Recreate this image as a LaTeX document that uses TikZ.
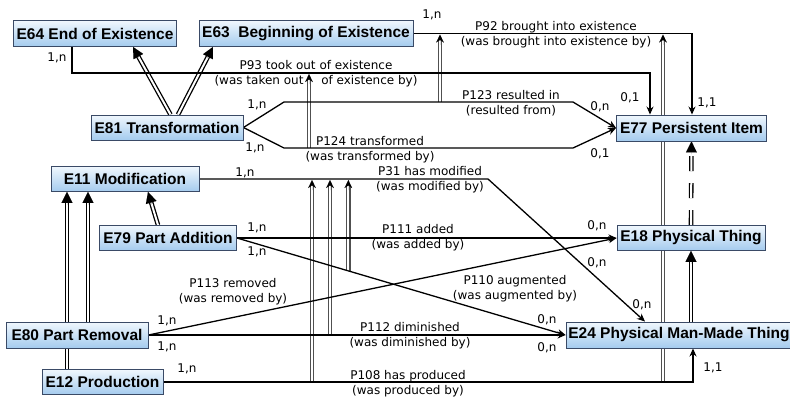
\documentclass[tikz,border=0pt]{standalone}
\usepackage{fontspec}
\setmainfont{DejaVu Sans}
\newfontfamily\boxfont{Liberation Sans}
\usetikzlibrary{arrows.meta,calc}
\definecolor{boxtop}{HTML}{F0F7FD}
\definecolor{boxbot}{HTML}{A4CBEE}
\definecolor{boxline}{HTML}{3A4A66}
\definecolor{subprop}{HTML}{505050}
\pgfdeclarelayer{background}
\pgfsetlayers{background,main}
\tikzset{
  ent/.style={draw=boxline, line width=0.9pt, top color=boxtop, bottom color=boxbot,
    font=\boxfont\bfseries\fontsize{15.5}{18}\selectfont, inner sep=0pt, minimum height=25pt},
  card/.style={font=\fontsize{12}{14}\selectfont, inner sep=0pt},
  plab/.style={font=\fontsize{12}{15}\selectfont, align=center, inner sep=0pt},
  prop/.style={draw, line width=1.3pt, -{Stealth[length=8pt,width=7pt]}},
  isaline/.style={draw=black, double=white, double distance=2pt, line width=1.3pt, shorten >=9pt},
  isatip/.style={line width=0.01pt, -{Triangle[length=11pt,width=11pt]}},
  spline/.style={draw=subprop, double=white, double distance=2pt, line width=1.2pt, shorten >=6pt},
  sptip/.style={draw=black, line width=0.01pt, -{Stealth[length=8pt,width=7.5pt]}}
}
\newcommand\isarrow[2]{%
  \draw[isaline] (#1) -- (#2);
  \draw[isatip] ($(#2)!13pt!(#1)$) -- (#2);}
\newcommand\sparrow[2]{%
  \draw[spline] (#1) -- (#2);
  \draw[sptip] ($(#2)!10pt!(#1)$) -- (#2);}
\begin{document}
\begin{tikzpicture}[x=1pt,y=-1pt]
\useasboundingbox (0,0) rectangle (790,397);
% entity nodes
\node[ent, minimum width=163pt, minimum height=26pt] (e64) at (95,33.5) {E64 End of Existence};
\node[ent, minimum width=214pt, minimum height=26pt] (e63) at (306,33.5) {E63\ \ Beginning of Existence};
\node[ent, minimum width=152pt] (e81) at (167,127.5) {E81 Transformation};
\node[ent, minimum width=150pt, minimum height=26pt] (e77) at (691.5,128) {E77 Persistent Item};
\node[ent, minimum width=148pt] (e11) at (125,179) {E11 Modification};
\node[ent, minimum width=137pt] (e79) at (168,238) {E79 Part Addition};
\node[ent, minimum width=148pt] (e18) at (691,238) {E18 Physical Thing};
\node[ent, minimum width=142pt, minimum height=26pt] (e80) at (77,335) {E80 Part Removal};
\node[ent, minimum width=226pt, minimum height=26pt] (e24) at (679,335) {E24 Physical Man-Made Thing};
\node[ent, minimum width=121pt] (e12) at (102.5,382) {E12 Production};
% bend coordinates
\coordinate (p93a) at (72,73);
\coordinate (p93b) at (650,73);
\coordinate (p92b) at (692,33.5);
\coordinate (p123a) at (284,102);
\coordinate (p123b) at (573,102);
\coordinate (p124a) at (284,148);
\coordinate (p124b) at (573,148);
\coordinate (p31a) at (488,179);
\coordinate (p108a) at (693,382);
% subproperty coordinates
\coordinate (s1b) at (309,148);  \coordinate (s1t) at (309,74);
\coordinate (s2b) at (440,102);  \coordinate (s2t) at (440,34.5);
\coordinate (s3b) at (663,382);  \coordinate (s3t) at (663,34.5);
\coordinate (s4b) at (312,382);  \coordinate (s4t) at (312,180);
\coordinate (s5b) at (330,335);  \coordinate (s5t) at (330,180);
\coordinate (s6b) at ($(e79.east)!0.339!(e24.west)$);
\coordinate (s6t) at (s6b |- s5t);
\begin{pgfonlayer}{background}
\fill[white] (0,0) rectangle (790,397);
% subclass double lines
\isarrow{[xshift=3.5pt]e81.north}{[xshift=38pt]e64.south}
\isarrow{[xshift=11pt]e81.north}{[xshift=-93pt]e63.south}
\isarrow{[xshift=-10pt]e79.north}{[xshift=23pt]e11.south}
\isarrow{[xshift=-35.5pt]e12.north}{[xshift=-58pt]e11.south}
\isarrow{[xshift=11pt]e80.north}{[xshift=-37pt]e11.south}
\isarrow{[xshift=12pt]e24.north}{e18.south}
\draw[isaline, dash pattern=on 15pt off 12pt] (e18.north) -- (e77.south);
\draw[isatip] ($(e77.south)!13pt!(e18.north)$) -- (e77.south);
% subproperty double lines
\sparrow{s1b}{s1t}
\sparrow{s2b}{s2t}
\sparrow{s3b}{s3t}
\sparrow{s4b}{s4t}
\sparrow{s5b}{s5t}
\sparrow{s6b}{s6t}
% property lines
\draw[prop] ([xshift=-23pt]e64.south) -- (p93a) -- (p93b) -- (p93b |- e77.north);
\draw[prop] (e63.east) -- (p92b) -- (p92b |- e77.north);
\draw[prop] (e81.east) -- (p123a) -- (p123b) -- (e77.west);
\draw[prop] (e81.east) -- (p124a) -- (p124b) -- (e77.west);
\draw[prop] (e11.east) -- (p31a) -- ([xshift=-34pt]e24.north);
\draw[prop] (e79.east) -- (e18.west);
\draw[prop] (e79.east) -- (e24.west);
\draw[prop] (e80.east) -- (e18.west);
\draw[prop] (e80.east) -- (e24.west);
\draw[prop] (e12.east) -- (p108a) -- (p108a |- e24.south);
\end{pgfonlayer}
% property labels
\node[plab] (l93) at (316,73.5) {P93 took out of existence\\(was taken out\hspace{14pt} of existence by)};
\node[plab] (l92) at (556,34.5) {P92 brought into existence\\(was brought into existence by)};
\node[plab] (l123) at (511,103.5) {P123 resulted in\\(resulted from)};
\node[plab] (l124) at (370,150) {P124 transformed\\(was transformed by)};
\node[plab] (l31) at (430,180) {P31 has modified\\(was modified by)};
\node[plab] (l111) at (418,238) {P111 added\\(was added by)};
\node[plab] (l110) at (515,289) {P110 augmented\\(was augmented by)};
\node[plab] (l113) at (233,292) {P113 removed\\(was removed by)};
\node[plab] (l112) at (410,336) {P112 diminished\\(was diminished by)};
\node[plab] (l108) at (408,384) {P108 has produced\\(was produced by)};
% cardinalities
\node[card] (c1) at (57,58) {1,n};
\node[card] (c2) at (432,15) {1,n};
\node[card] (c3) at (630,98) {0,1};
\node[card] (c4) at (707,103) {1,1};
\node[card] (c5) at (257,105) {1,n};
\node[card] (c6) at (255,148) {1,n};
\node[card] (c7) at (600,107) {0,n};
\node[card] (c8) at (600,154) {0,1};
\node[card] (c9) at (245,173) {1,n};
\node[card] (c10) at (642,305) {0,n};
\node[card] (c11) at (257,228) {1,n};
\node[card] (c12) at (257,252) {1,n};
\node[card] (c13) at (597,226) {0,n};
\node[card] (c14) at (597,263) {0,n};
\node[card] (c15) at (547,320) {0,n};
\node[card] (c16) at (547,348) {0,n};
\node[card] (c17) at (167,321) {1,n};
\node[card] (c18) at (167,347) {1,n};
\node[card] (c19) at (187,369) {1,n};
\node[card] (c20) at (713,368) {1,1};
\end{tikzpicture}
\end{document}
